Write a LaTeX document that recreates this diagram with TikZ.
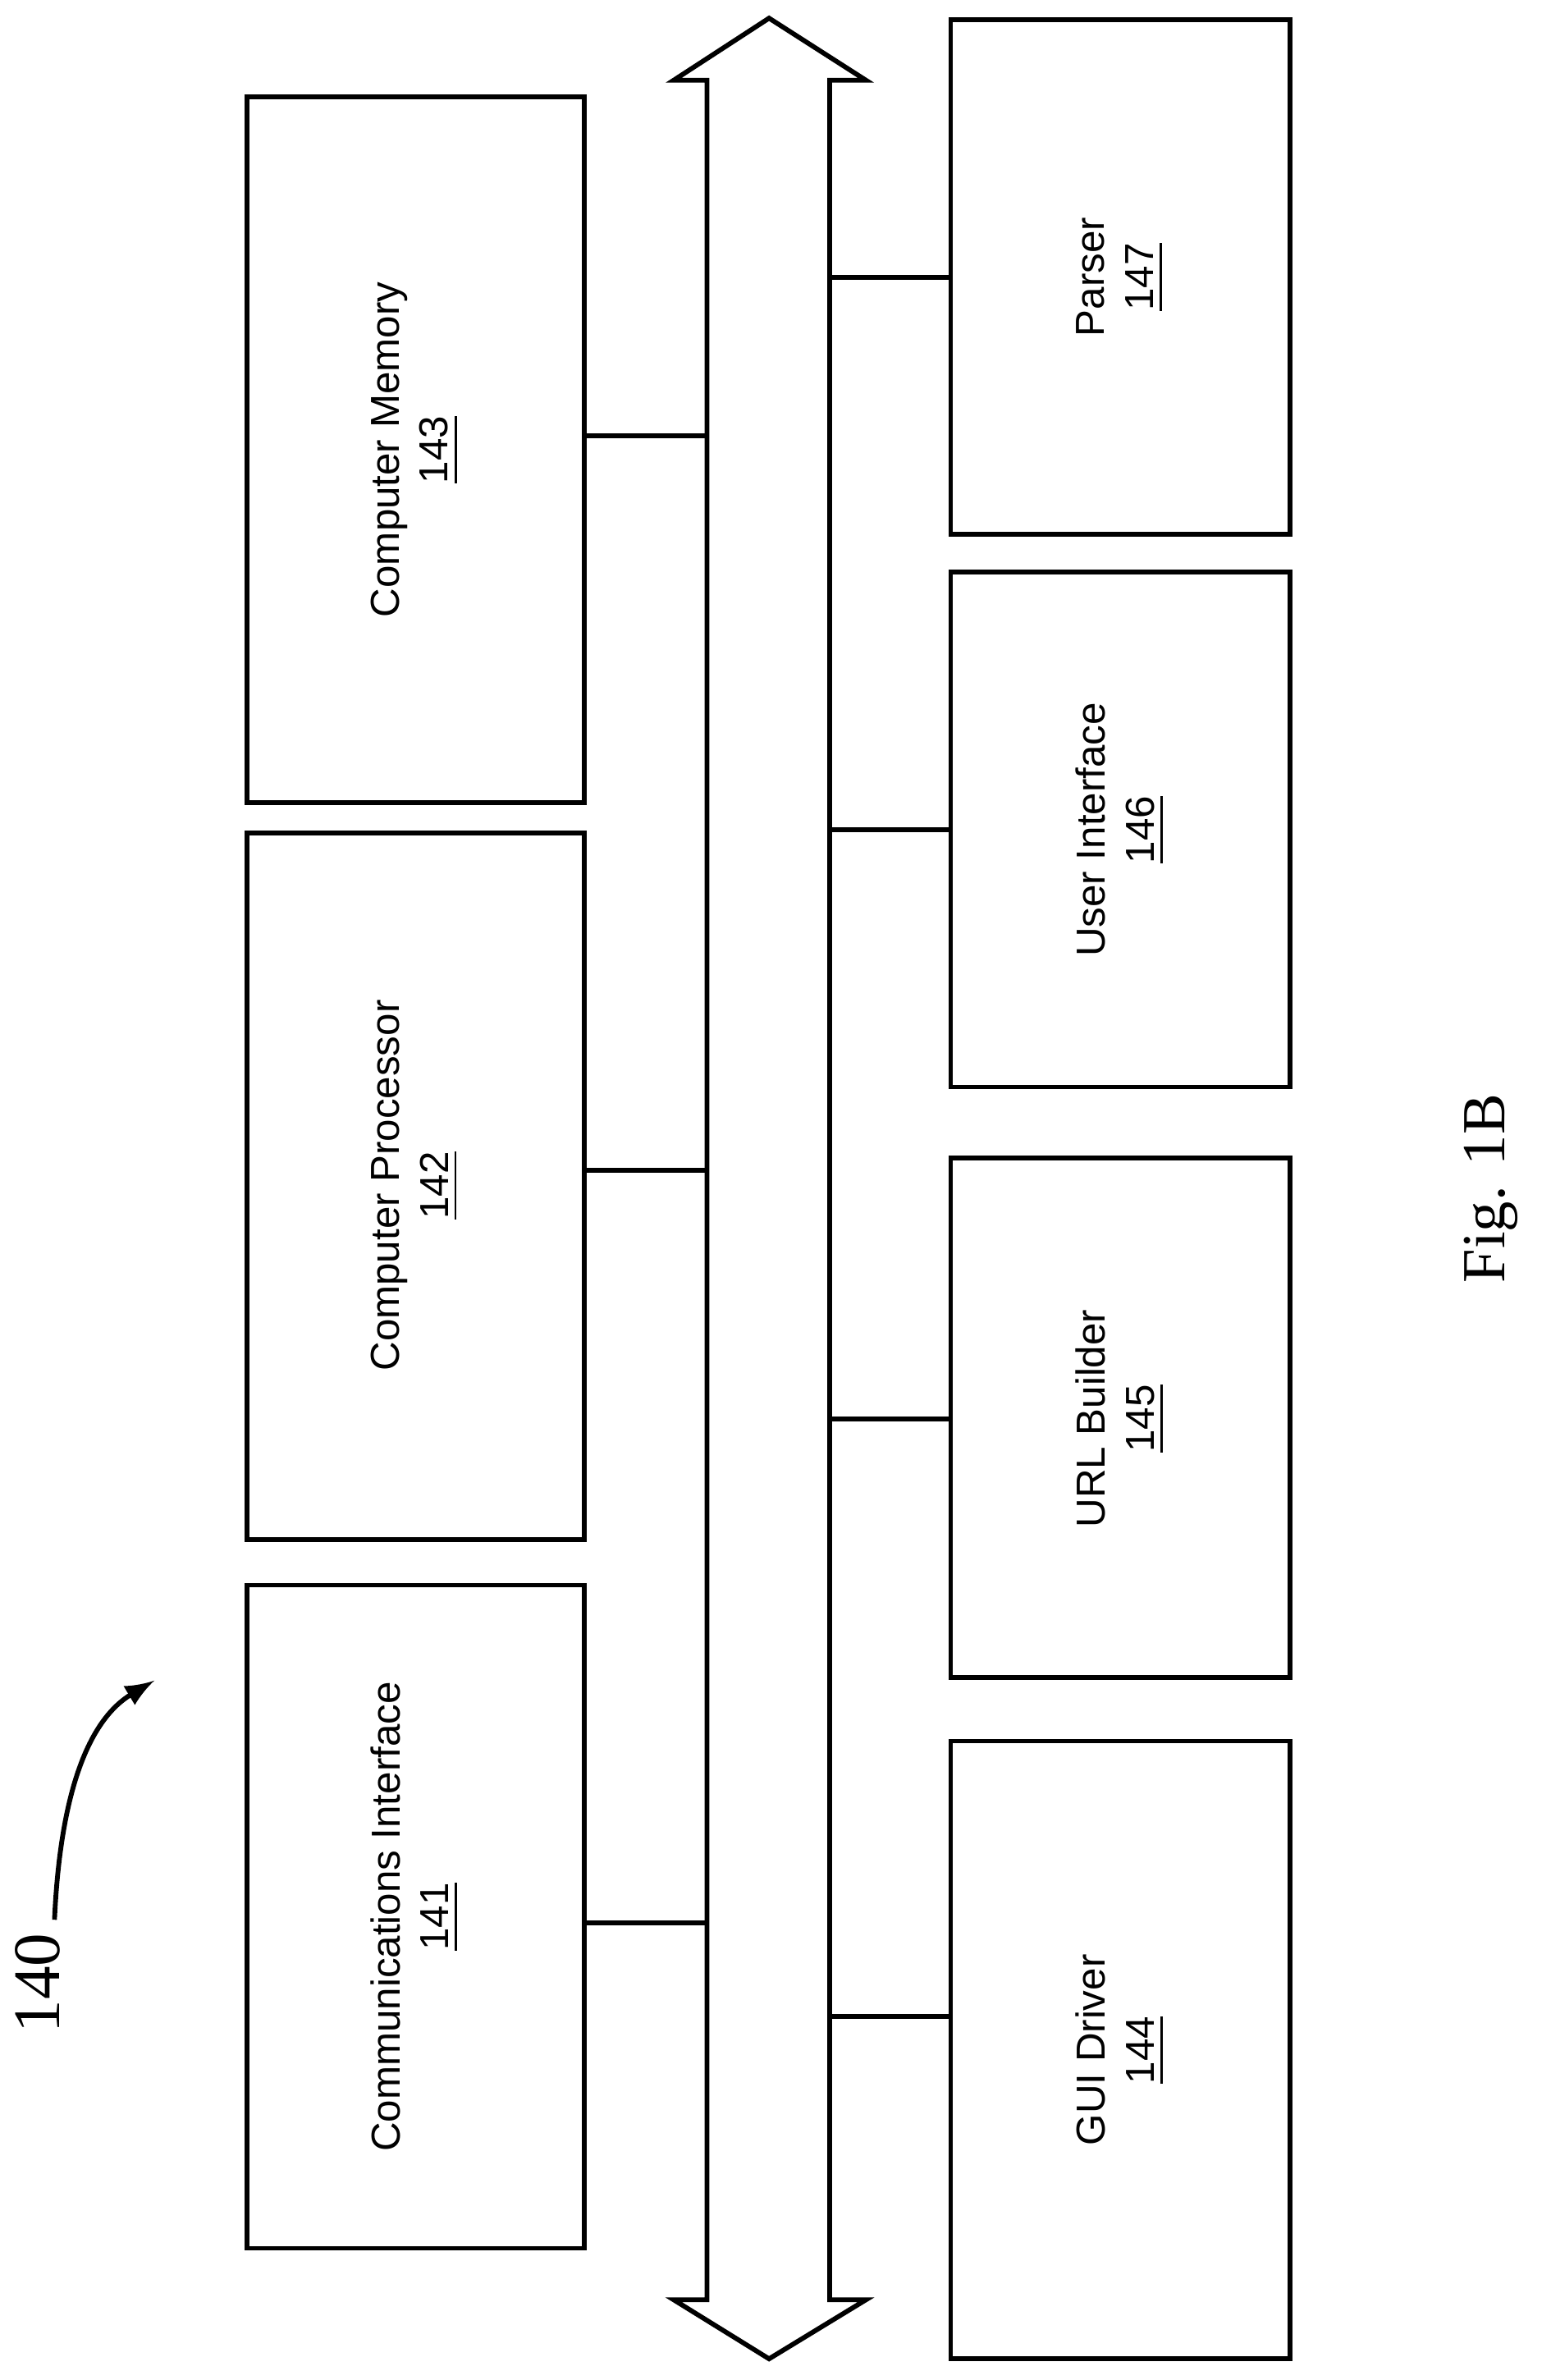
\documentclass[tikz,border=0pt]{standalone}
\usepackage{fontspec}
\setsansfont{Liberation Sans}
\setmainfont{Liberation Serif}
\usetikzlibrary{positioning}
\begin{document}
\begin{tikzpicture}[x=0.01cm,y=-0.01cm]
\tikzset{
  unit/.style={draw,line width=0.9pt,minimum width={#1},anchor=north west},
  lbl/.style={rotate=90,align=center,font=\sffamily\fontsize{7.6}{9.2}\selectfont},
  link/.style={line width=0.9pt}
}
\useasboundingbox (0,0) rectangle (1024,1572);
% left column
\draw[line width=0.9pt] (163,64) rectangle (386,530);
\node[lbl] (mem) at (274,297) {Computer Memory\\\underline{143}};
\draw[line width=0.9pt] (163,550) rectangle (386,1017);
\node[lbl] (proc) at (274,783) {Computer Processor\\\underline{142}};
\draw[line width=0.9pt] (163,1047) rectangle (386,1485);
\node[lbl] (comm) at (274,1266) {Communications Interface\\\underline{141}};
% right column
\draw[line width=0.9pt] (628,13) rectangle (852,353);
\node[lbl] (pars) at (740,183) {Parser\\\underline{147}};
\draw[line width=0.9pt] (628,378) rectangle (852,718);
\node[lbl] (ui) at (740,548) {User Interface\\\underline{146}};
\draw[line width=0.9pt] (628,765) rectangle (852,1108);
\node[lbl] (url) at (740,937) {URL Builder\\\underline{145}};
\draw[line width=0.9pt] (628,1150) rectangle (852,1558);
\node[lbl] (gui) at (740,1354) {GUI Driver\\\underline{144}};
% bus
\draw[line width=0.9pt,fill=white] (467,53) -- (445,53) -- (508,12) -- (572,53) -- (548,53)
  -- (548,1519) -- (572,1519) -- (508,1558) -- (445,1519) -- (467,1519) -- cycle;
% connectors
\foreach \y in {288,773,1270} \draw[link] (386,\y) -- (467,\y);
\foreach \y in {183,548,937,1332} \draw[link] (548,\y) -- (628,\y);
% labels
\node[rotate=90,font=\fontsize{11.5}{13}\selectfont] (fig) at (985,785) {Fig. 1B};
\node[rotate=90,font=\fontsize{12.5}{14}\selectfont] (ref) at (25,1310) {140};
\draw[line width=0.9pt,-latex] (36,1268) .. controls (40,1180) and (60,1135) .. (102,1110);
\end{tikzpicture}
\end{document}
